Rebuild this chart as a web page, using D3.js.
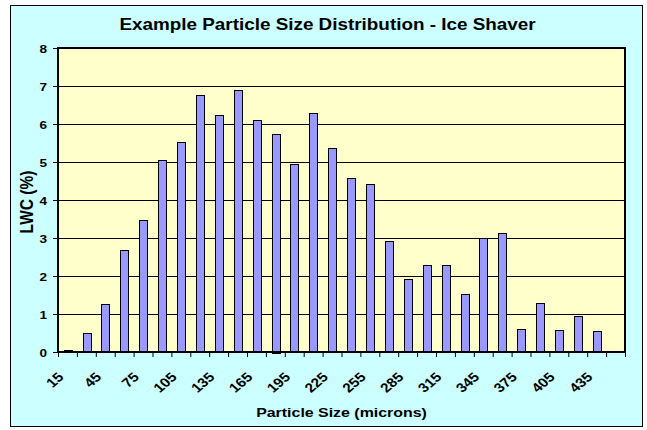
<!DOCTYPE html>
<html>
<head>
	<meta charset="utf-8">
	<title>Example Particle Size Distribution - Ice Shaver</title>
	<script src="https://cdnjs.cloudflare.com/ajax/libs/d3/7.8.5/d3.min.js"></script>
	<style>
	body { margin: 0; background: #fff; }
	text { font-family: Arial, "Liberation Sans", sans-serif; font-weight: bold; fill: #000; }
	.bar { fill: #9999ff; stroke: #000; stroke-width: 1px; }
	.grid line { stroke: #000; stroke-width: 1px; }
	</style>
</head>
<body>
<svg id="chart" width="647" height="430"></svg>

<script type="text/javascript">

// particle size categories (microns) and liquid water content (%)
var sizes = [15, 30, 45, 60, 75, 90, 105, 120, 135, 150, 165, 180, 195, 210, 225,
             240, 255, 270, 285, 300, 315, 330, 345, 360, 375, 390, 405, 420, 435, 450];
var lwc = [0.06, 0.50, 1.27, 2.68, 3.47, 5.05, 5.52, 6.77, 6.24, 6.90, 6.10, 5.75, 4.96, 6.30, 5.37,
           4.58, 4.41, 2.91, 1.93, 2.29, 2.29, 1.52, 3.01, 3.14, 0.61, 1.28, 0.58, 0.95, 0.54, null];
var xTickLabels = [15, 45, 75, 105, 135, 165, 195, 225, 255, 285, 315, 345, 375, 405, 435];
var yTicks = [0, 1, 2, 3, 4, 5, 6, 7, 8];

var title = "Example Particle Size Distribution - Ice Shaver",
    xTitle = "Particle Size (microns)",
    yTitle = "LWC (%)";

// the source picture is stretched sideways, so text is too
var sx = 1.18;

var svg = d3.select("svg"),
    margin = {top: 48, right: 22, bottom: 78, left: 58},
    width = svg.attr("width") - margin.left - margin.right,
    height = svg.attr("height") - margin.top - margin.bottom;

// chart area
svg.append("rect")
    .attr("x", 10.5).attr("y", 5.5)
    .attr("width", 632).attr("height", 421)
    .attr("fill", "#ccffff")
    .attr("stroke", "#000");

var g = svg.append("g").attr("transform", "translate(" + margin.left + "," + margin.top + ")");

var x = d3.scaleBand()
    .domain(sizes)
    .range([0, width])
    .paddingInner(0.6)
    .paddingOuter(0.3);

var xEdge = d3.scaleLinear().domain([0, sizes.length]).range([0, width]);

var y = d3.scaleLinear().domain([0, 8]).range([height, 0]);

g.append("rect")
    .attr("width", width)
    .attr("height", height)
    .attr("fill", "#ffffcc");

// gridlines
g.append("g")
    .attr("class", "grid")
    .selectAll("line")
    .data(yTicks.slice(1, -1))
    .enter().append("line")
    .attr("x1", 0).attr("x2", width)
    .attr("y1", function(d) { return Math.round(y(d)) + 0.5; })
    .attr("y2", function(d) { return Math.round(y(d)) + 0.5; });

// bars
g.selectAll(".bar")
    .data(sizes.map(function(s, i) { return {size: s, value: lwc[i]}; })
               .filter(function(d) { return d.value != null; }))
    .enter().append("rect")
    .attr("class", "bar")
    .attr("x", function(d) { return Math.round(x(d.size)) + 0.5; })
    .attr("width", Math.round(x.bandwidth()))
    .attr("y", function(d) { return Math.round(y(d.value)) + 0.5; })
    .attr("height", function(d) { return Math.round(height - y(d.value)); });

// plot border
g.append("rect")
    .attr("width", width)
    .attr("height", height)
    .attr("fill", "none")
    .attr("stroke", "#000")
    .attr("stroke-width", 2);

// y axis ticks
var yAxis = g.append("g")
    .call(d3.axisLeft(y).tickValues(yTicks).tickSize(5).tickFormat(""));
yAxis.select(".domain").remove();
yAxis.selectAll(".tick line").attr("stroke", "#000");
yAxis.selectAll(".tick").append("text")
    .attr("text-anchor", "end")
    .attr("transform", "translate(-11,4) scale(" + sx + ",1)")
    .style("font-size", "11.5px")
    .text(function(d) { return d; });

// x axis tick marks at category edges
var xAxis = g.append("g")
    .attr("transform", "translate(0," + height + ")")
    .call(d3.axisBottom(xEdge).tickValues(d3.range(sizes.length + 1)).tickSize(5).tickFormat(""));
xAxis.select(".domain").remove();
xAxis.selectAll(".tick line").attr("stroke", "#000");

// x labels, slanted: outer group stretches, text inside turns
var xLabel = svg.append("g")
    .attr("class", "xlabels")
    .selectAll("g")
    .data(xTickLabels)
    .enter().append("g")
    .attr("transform", function(d) {
        var cx = margin.left + x(d) + x.bandwidth() / 2;
        return "translate(" + (cx - 3) + "," + (margin.top + height + 26) + ") scale(" + sx + ",1)";
    });
xLabel.append("text")
    .attr("text-anchor", "end")
    .attr("transform", "rotate(-45)")
    .style("font-size", "13px")
    .text(function(d) { return d; });

// titles
svg.append("text")
    .attr("text-anchor", "middle")
    .attr("transform", "translate(327.5,30) scale(" + sx + ",1)")
    .style("font-size", "16px")
    .text(title);

svg.append("text")
    .attr("text-anchor", "middle")
    .attr("transform", "translate(" + (margin.left + width / 2) + ",417) scale(" + sx + ",1)")
    .style("font-size", "13.5px")
    .text(xTitle);

svg.append("text")
    .attr("text-anchor", "middle")
    .attr("transform", "translate(33," + (margin.top + height / 2 + 2) + ") scale(" + sx + ",1) rotate(-90)")
    .style("font-size", "15.5px")
    .text(yTitle);

</script>
</body>
</html>
